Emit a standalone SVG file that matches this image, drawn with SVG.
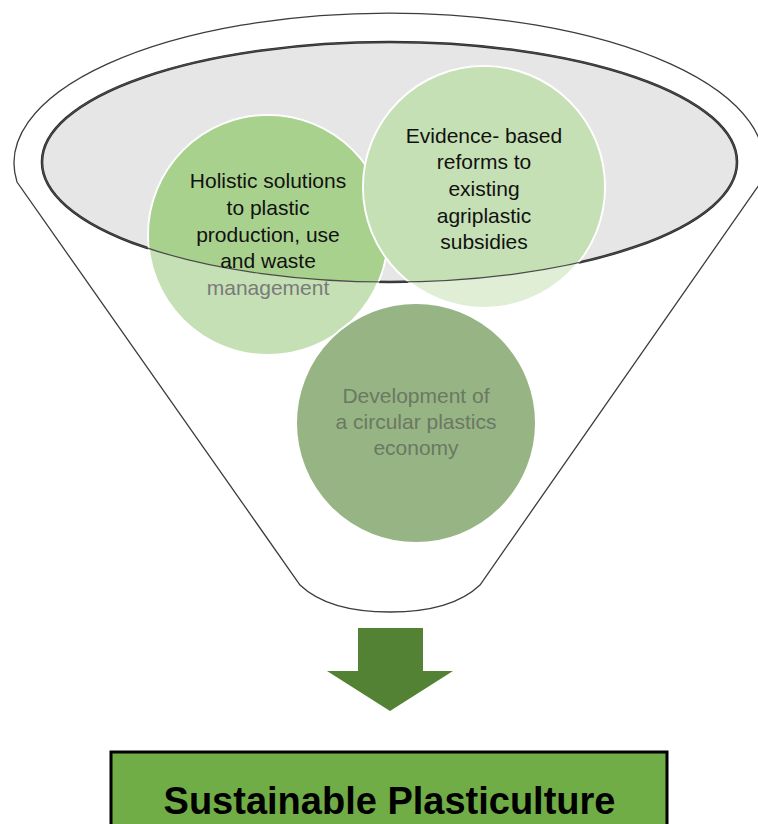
<svg xmlns="http://www.w3.org/2000/svg" width="758" height="824" viewBox="0 0 758 824">
  <style>
    .label { font-family: "Liberation Sans", Arial, sans-serif; font-size: 21px; text-anchor: middle; }
    .dark { fill: #111111; }
    .muted { fill: #7a7a7a; }
    .econ { fill: #6b7862; }
    .ring { stroke: #ffffff; stroke-width: 2; }
    .title { font-family: "Liberation Sans", Arial, sans-serif; font-size: 38px; font-weight: bold; text-anchor: middle; fill: #000000; }
  </style>
  <defs>
    <clipPath id="mouth">
      <ellipse cx="389.5" cy="162" rx="347.5" ry="120"/>
    </clipPath>
  </defs>

  <rect width="758" height="824" fill="#ffffff"/>

  <!-- funnel body and its open mouth -->
  <g id="funnel">
    <path d="M17,182 A375,150 0 1 1 761,182 L480,585 C458,606 425,612 390,612 C355,612 322,606 300,585 Z"
          fill="#ffffff" stroke="#3c3c3c" stroke-width="1.3"/>
    <ellipse cx="389.5" cy="162" rx="347.5" ry="120" fill="#e7e6e6" stroke="#2a2a2a" stroke-width="2.6"/>
  </g>

  <g id="holistic">
    <circle cx="268" cy="235" r="120" fill="#c5e0b4" class="ring"/>
    <circle cx="268" cy="235" r="119" fill="#a9d18e" clip-path="url(#mouth)"/>
  </g>

  <g id="evidence">
    <circle cx="484" cy="187" r="121" fill="#e0eed6" class="ring"/>
    <circle cx="484" cy="187" r="120" fill="#c5e0b4" clip-path="url(#mouth)"/>
  </g>

  <!-- rim line stays visible through the circles -->
  <ellipse cx="389.5" cy="162" rx="347.5" ry="120" fill="none" stroke="#4a4a4a" stroke-width="1.2"/>

  <g id="circular">
    <circle cx="416" cy="423" r="120" fill="#97b485" class="ring"/>
    <text class="label econ" x="416" y="403">Development of</text>
    <text class="label econ" x="416" y="429">a circular plastics</text>
    <text class="label econ" x="416" y="455">economy</text>
  </g>

  <g id="holistic-text">
    <text class="label dark" x="268" y="188">Holistic solutions</text>
    <text class="label dark" x="268" y="215">to plastic</text>
    <text class="label dark" x="268" y="242">production, use</text>
    <text class="label dark" x="268" y="268">and waste</text>
    <text class="label muted" x="268" y="295">management</text>
  </g>

  <g id="evidence-text">
    <text class="label dark" x="484" y="143">Evidence- based</text>
    <text class="label dark" x="484" y="169">reforms to</text>
    <text class="label dark" x="484" y="196">existing</text>
    <text class="label dark" x="484" y="223">agriplastic</text>
    <text class="label dark" x="484" y="249">subsidies</text>
  </g>

  <g id="connectors">
    <polygon points="358,628 423,628 423,671 453,671 390,711 327,671 358,671" fill="#548235"/>
  </g>

  <g id="result">
    <rect x="111" y="752" width="556" height="90" fill="#70ad47" stroke="#000000" stroke-width="3"/>
    <text class="title" x="389.5" y="814">Sustainable Plasticulture</text>
  </g>
</svg>
